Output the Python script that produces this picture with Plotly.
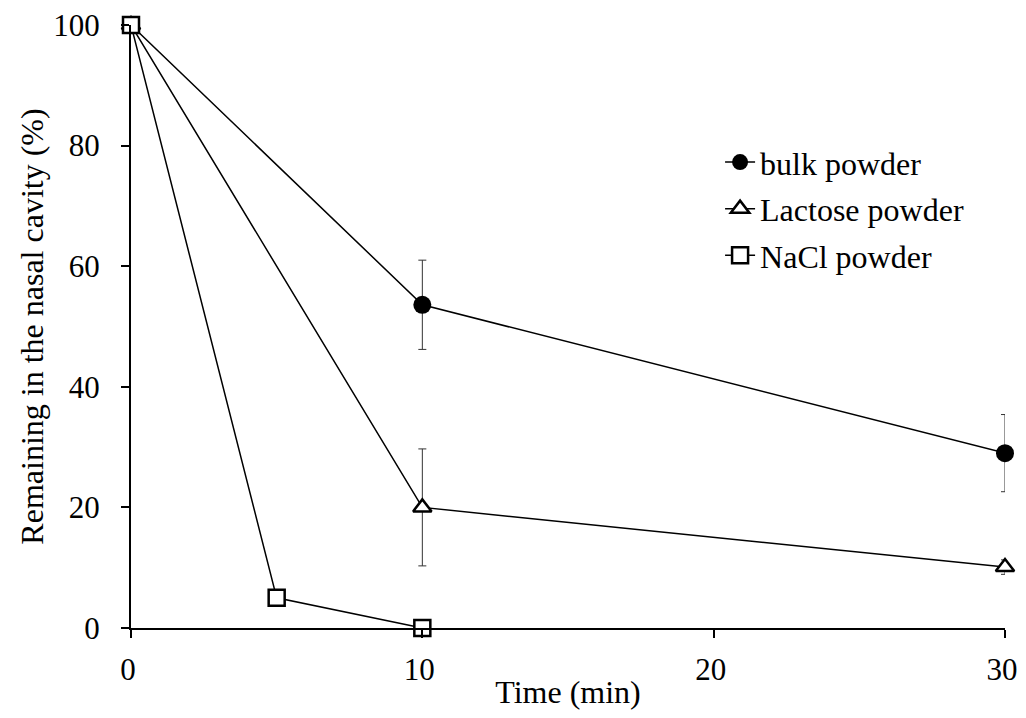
import plotly.graph_objects as go

time_bulk = [0, 10, 30]
bulk = [100, 53.6, 29.0]
bulk_err = [0, 7.4, 6.4]

time_lac = [0, 10, 30]
lactose = [100, 20.0, 10.1]
lactose_err = [0, 9.7, 1.2]

time_nacl = [0, 5, 10]
nacl = [100, 5.0, 0.0]

x_ticks = [0, 10, 20, 30]
y_ticks = [0, 20, 40, 60, 80, 100]

FONT = "Liberation Serif, Times New Roman, serif"

fig = go.Figure()
fig.add_trace(go.Scatter(
    x=time_bulk, y=bulk, name="bulk powder", mode="lines+markers", legendgroup="a",
    line=dict(color="black", width=1.5),
    marker=dict(symbol="circle", size=18, color="black"),
    error_y=dict(type="data", array=bulk_err, visible=True, color="#333333", thickness=1, width=4),
    cliponaxis=False,
))
fig.add_trace(go.Scatter(
    x=time_lac, y=lactose, name="Lactose powder", mode="lines+markers", legendgroup="b",
    line=dict(color="black", width=1.5),
    marker=dict(symbol="triangle-up", size=16, color="white", line=dict(color="black", width=2.5)),
    error_y=dict(type="data", array=lactose_err, visible=True, color="#333333", thickness=1, width=4),
    cliponaxis=False,
))
fig.add_trace(go.Scatter(
    x=time_nacl, y=nacl, name="NaCl powder", mode="lines+markers", legendgroup="c",
    line=dict(color="black", width=1.5),
    marker=dict(symbol="square", size=16, color="white", line=dict(color="black", width=2.5)),
    cliponaxis=False,
))

fig.update_layout(
    width=1010, height=702,
    margin=dict(l=123, r=13, t=17, b=82, autoexpand=False),
    paper_bgcolor="white", plot_bgcolor="white",
    font=dict(family=FONT, size=32, color="black"),
    showlegend=True,
    legend=dict(x=0.674, y=0.818, xanchor="left", yanchor="top",
                font=dict(family=FONT, size=32, color="black"),
                bgcolor="rgba(0,0,0,0)", tracegroupgap=2, traceorder="grouped",
                itemsizing="trace"),
    xaxis=dict(range=[0, 30], tickvals=x_ticks, showgrid=False, zeroline=False,
               showline=True, linecolor="black", linewidth=2,
               ticks="outside", ticklen=8, tickwidth=2, tickcolor="black",
               tickfont=dict(family=FONT, size=31), ticklabeloverflow="allow",
               ticklabelstandoff=5, ticklabelshift=-3, automargin=True,
               title=dict(text="Time (min)", font=dict(family=FONT, size=32), standoff=3)),
    yaxis=dict(range=[0, 100], tickvals=y_ticks, showgrid=False, zeroline=False,
               showline=True, linecolor="black", linewidth=2,
               ticks="outside", ticklen=8, tickwidth=2, tickcolor="black",
               tickfont=dict(family=FONT, size=31), ticklabeloverflow="allow",
               ticklabelstandoff=15,
               title=dict(text="Remaining in the nasal cavity (%)", font=dict(family=FONT, size=32), standoff=0)),
)

fig.write_html("out.html")
